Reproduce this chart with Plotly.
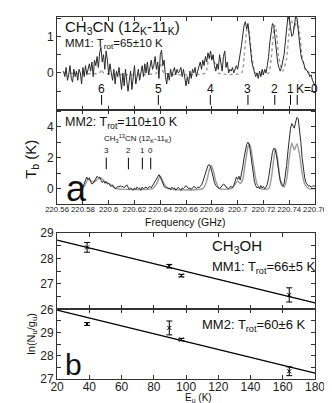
import plotly.graph_objects as go

# ---------- panel a : CH3CN (12K-11K) spectra ----------
f0_mm1 = 220.565
mm1_obs = [0.05, -0.1, 0.15, -0.2, -0.05, 0.2, -0.15, -0.25, 0.1, -0.1,
           0.05, -0.2, 0.1, 0.0, -0.3, 0.15, -0.1, 0.2, -0.05, 0.1,
           0.25, 0.05, 0.3, -0.1, 0.35, 0.2, 0.45, 0.15, 0.55, 0.7,
           0.3, 0.5, 0.1, 0.6, 0.35, -0.05, 0.25, 0.0, -0.2, 0.1,
           -0.3, 0.05, -0.1, 0.15, -0.2, -0.45, 0.0, -0.35, 0.1, -0.15,
           -0.5, -0.2, 0.05, -0.45, -0.1, 0.2, -0.3, -0.05, 0.1, -0.2,
           0.05, 0.2, -0.1, 0.25, 0.0, 0.3, -0.05, 0.15, 0.35, 0.1,
           0.2, 0.45, 0.1, 0.3, -0.15, 0.5, 0.62, 0.2, 0.35, -0.1,
           -0.3, 0.0, -0.2, 0.1, -0.1, 0.05, 0.15, -0.05, 0.1, 0.0,
           0.05, 0.15, -0.1, 0.1, -0.2, -0.35, -0.1, -0.3, 0.05, -0.15,
           0.1, 0.0, 0.15, -0.1, 0.05, 0.2, 0.3, 0.1, 0.35, 0.2,
           0.45, 0.3, 0.55, 0.4, 0.6, 0.35, 0.5, 0.2, 0.05, 0.25,
           0.1, 0.5, 0.2, 0.05, 0.45, 0.6, 0.15, 0.3, 0.0, 0.1,
           0.05, 0.15, 0.0, 0.1, 0.2, 0.1, 0.3, 0.45, 0.75, 1.05,
           1.3, 1.4, 1.2, 1.35, 0.95, 0.55, 0.3, 0.15, 0.05, -0.1,
           0.0, -0.15, 0.05, -0.1, 0.1, -0.05, 0.1, 0.0, 0.2, 0.45,
           0.85, 1.2, 1.35, 1.3, 0.95, 0.55, 0.3, 0.15, 0.05, 0.15,
           0.3, 0.5, 0.85, 1.3, 1.55, 1.45, 1.2, 1.0, 1.05, 1.4,
           1.55, 1.5, 1.1, 0.75, 0.5, 0.35, 0.3, 0.15, 0.1, 0.05,
           0.0, -0.1, -0.05, -0.2, -0.3, -0.35]
freq_mm1 = [round(f0_mm1 + 0.001 * i, 3) for i in range(len(mm1_obs))]

mod1_f = [220.565, 220.593, 220.5945, 220.596, 220.637, 220.640, 220.643, 220.675,
          220.677, 220.6795, 220.682, 220.685, 220.703, 220.705, 220.707, 220.708,
          220.709, 220.711, 220.714, 220.724, 220.726, 220.728, 220.729, 220.730,
          220.732, 220.735, 220.738, 220.740, 220.7415, 220.744, 220.746, 220.748,
          220.750, 220.753, 220.760]
mod1_v = [0, 0, 0.1, 0, 0, 0.25, 0, 0,
          0.3, 0.5, 0.3, 0, 0, 0.45, 1.15, 1.3,
          1.15, 0.45, 0, 0, 0.4, 1.15, 1.3, 1.15,
          0.4, 0.05, 0.4, 1.2, 1.45, 1.2, 1.45, 1.1,
          0.45, 0.05, 0]

f0_mm2 = 220.580
mm2_obs = [0.1, 0.3, 0.5, 0.75, 0.6, 0.7, 0.45, 0.3, 0.35, 0.5,
           0.65, 0.8, 0.7, 0.75, 0.55, 0.4, 0.5, 0.35, 0.45, 0.3,
           0.35, 0.2, 0.15, 0.25, 0.1, 0.0, 0.05, 0.15, 0.1, 0.2,
           0.1, 0.15, 0.05, 0.2, 0.25, 0.1, -0.05, 0.05, 0.0, -0.1,
           0.05, -0.05, 0.1, 0.0, 0.05, -0.1, 0.1, 0.0, 0.05, 0.1,
           0.0, 0.1, 0.15, 0.05, 0.2, 0.3, 0.45, 0.6, 0.8, 0.9,
           0.75, 0.5, 0.3, 0.15, 0.05, 0.1, 0.0, 0.05, -0.05, 0.1,
           0.0, 0.05, -0.1, 0.05, 0.1, 0.0, -0.1, 0.05, 0.0, 0.1,
           0.2, 0.1, 0.0, 0.05, -0.05, 0.05, 0.15, 0.1, 0.0, 0.1,
           0.05, 0.15, 0.25, 0.45, 0.7, 1.0, 1.3, 1.5, 1.55, 1.4,
           1.1, 0.7, 0.4, 0.2, 0.1, 0.05, 0.0, 0.1, 0.2, 0.3,
           0.25, 0.1, 0.05, 0.0, 0.1, 0.15, 0.05, 0.2, 0.45, 0.75,
           0.6, 0.8, 0.55, 0.9, 1.4, 2.0, 2.5, 2.85, 3.0, 2.85,
           2.3, 1.6, 0.9, 0.45, 0.2, 0.05, 0.1, 0.0, 0.2, 0.05,
           0.15, 0.0, 0.1, 0.3, 0.7, 1.3, 1.9, 2.35, 2.6, 2.55,
           2.2, 1.6, 1.0, 0.5, 0.25, 0.15, 0.3, 0.8, 1.5, 2.4,
           3.3, 3.9, 4.2, 4.0, 3.9, 4.3, 4.6, 4.5, 3.9, 3.0,
           2.0, 1.2, 0.7, 0.4, 0.25, 0.15, 0.2, 0.1, 0.15, 0.2,
           0.15]
freq_mm2 = [round(f0_mm2 + 0.001 * i, 3) for i in range(len(mm2_obs))]

mod2_f = [220.580, 220.582, 220.584, 220.586, 220.589, 220.592, 220.594, 220.597,
          220.600, 220.603, 220.606, 220.634, 220.637, 220.640, 220.643, 220.646,
          220.673, 220.676, 220.678, 220.6795, 220.681, 220.683, 220.686, 220.695,
          220.698, 220.700, 220.702, 220.704, 220.706, 220.708, 220.709, 220.710,
          220.712, 220.715, 220.718, 220.724, 220.726, 220.728, 220.7295, 220.731,
          220.733, 220.736, 220.738, 220.740, 220.742, 220.744, 220.746, 220.748,
          220.750, 220.752, 220.755, 220.760]
mod2_v = [0.0, 0.3, 0.6, 0.5, 0.45, 0.65, 0.7, 0.45,
          0.35, 0.15, 0.0, 0.0, 0.3, 0.8, 0.3, 0.0,
          0.0, 0.5, 1.2, 1.5, 1.2, 0.5, 0.0, 0.0,
          0.3, 0.5, 0.35, 0.6, 1.7, 2.7, 2.9, 2.7,
          1.7, 0.3, 0.0, 0.0, 0.6, 1.9, 2.6, 1.9,
          0.6, 0.1, 0.6, 2.0, 2.95, 2.5, 2.9, 2.2,
          1.0, 0.3, 0.0, 0.0]

k_labels = ["6", "5", "4", "3", "2", "1", "K=0"]
k_freq = [220.5945, 220.6385, 220.6788, 220.7080, 220.7288, 220.7410, 220.7462]
c13_labels = ["3", "2", "1", "0"]
c13_freq = [220.5981, 220.6153, 220.6261, 220.6326]

freq_ticks = [220.56, 220.58, 220.60, 220.62, 220.64, 220.66, 220.68, 220.70, 220.72, 220.74, 220.76]

# ---------- panel b : CH3OH rotation diagrams ----------
eu = [38.6, 89.6, 97.1, 164.0]
mm1_ln = [28.44, 27.70, 27.33, 26.57]
mm1_err = [0.19, 0.07, 0.05, 0.28]
mm2_ln = [29.37, 29.20, 28.70, 27.33]
mm2_err = [0.06, 0.30, 0.05, 0.19]
fit_e = [20, 180]
fit_mm1 = [28.73, 26.26]
fit_mm2 = [29.97, 27.25]

W, H = 332, 403
def px(x, y):
    return x / W, 1 - y / H

FONT = "Liberation Sans"
OBS = "#2a2a2a"
MOD = "#9a9a9a"

fig = go.Figure()

fig.add_trace(go.Scatter(x=mod1_f, y=mod1_v, mode="lines", xaxis="x", yaxis="y",
                         line=dict(color=MOD, width=1.4, dash="dot", shape="spline", smoothing=0.6)))
fig.add_trace(go.Scatter(x=freq_mm1, y=mm1_obs, mode="lines", xaxis="x", yaxis="y",
                         line=dict(color=OBS, width=1)))
fig.add_trace(go.Scatter(x=mod2_f, y=mod2_v, mode="lines", xaxis="x2", yaxis="y2",
                         line=dict(color=MOD, width=1.4, shape="spline", smoothing=0.6)))
fig.add_trace(go.Scatter(x=freq_mm2, y=mm2_obs, mode="lines", xaxis="x2", yaxis="y2",
                         line=dict(color=OBS, width=1)))

# line markers for K components
def marks(freqs, y0, y1):
    xs, ys = [], []
    for f in freqs:
        xs += [f, f, None]
        ys += [y0, y1, None]
    return xs, ys

mx, my = marks(k_freq, -0.6, -0.87)
fig.add_trace(go.Scatter(x=mx, y=my, mode="lines", xaxis="x", yaxis="y",
                         line=dict(color="black", width=1)))
mx, my = marks(c13_freq, 2.0, 1.25)
fig.add_trace(go.Scatter(x=mx, y=my, mode="lines", xaxis="x2", yaxis="y2",
                         line=dict(color="black", width=1)))

# rotation diagrams
for ln, err, fit, xa, ya in [(mm1_ln, mm1_err, fit_mm1, "x3", "y3"),
                             (mm2_ln, mm2_err, fit_mm2, "x4", "y4")]:
    fig.add_trace(go.Scatter(x=fit_e, y=fit, mode="lines", xaxis=xa, yaxis=ya,
                             line=dict(color="black", width=1.3)))
    fig.add_trace(go.Scatter(x=eu, y=ln, mode="markers", xaxis=xa, yaxis=ya,
                             marker=dict(symbol="x-thin", size=4, color="black",
                                         line=dict(color="black", width=1)),
                             error_y=dict(type="data", array=err, color="black",
                                          thickness=1, width=3)))

ax_common = dict(showline=True, linecolor="#333", linewidth=1, mirror="ticks",
                 ticks="inside", ticklen=4, tickcolor="#333", showgrid=False,
                 zeroline=False, tickfont=dict(family=FONT, size=12, color="#222"))

xd = [40 / W, 318 / W]
fig.update_layout(
    width=W, height=H, margin=dict(l=0, r=0, t=0, b=0),
    paper_bgcolor="white", plot_bgcolor="white", showlegend=False,
    xaxis=dict(ax_common, domain=xd, anchor="y", range=[220.56, 220.76],
               tickvals=freq_ticks, showticklabels=False),
    yaxis=dict(ax_common, domain=[1 - 98 / H, 1 - 2 / H], anchor="x", range=[-1.0, 1.53],
               tickvals=[-0.5, 0, 0.5, 1, 1.5], ticktext=["", "0", "", "1", ""]),
    xaxis2=dict(ax_common, domain=xd, anchor="y2", range=[220.56, 220.76],
                tickvals=freq_ticks, tickangle=0, ticklabelstandoff=-3,
                tickfont=dict(family=FONT, size=7.8, color="#222")),
    yaxis2=dict(ax_common, domain=[1 - 196 / H, 1 - 98 / H], anchor="x2", range=[-1.0, 5.1],
                tickvals=[0, 1, 2, 3, 4, 5], ticktext=["0", "", "2", "", "4", ""]),
    xaxis3=dict(ax_common, domain=xd, anchor="y3", range=[20, 180],
                tickvals=list(range(20, 181, 20)), showticklabels=False),
    yaxis3=dict(ax_common, domain=[1 - 305 / H, 1 - 226 / H], anchor="x3", range=[26, 29],
                tickvals=[26, 26.5, 27, 27.5, 28, 28.5, 29],
                ticktext=["26", "", "27", "", "28", "", "29"]),
    xaxis4=dict(ax_common, domain=xd, anchor="y4", range=[20, 180],
                tickvals=list(range(20, 181, 20)), tickangle=0, ticklabelstandoff=-3),
    yaxis4=dict(ax_common, domain=[1 - 377 / H, 1 - 305 / H], anchor="x4", range=[27, 30],
                tickvals=[27, 27.5, 28, 28.5, 29, 29.5, 30],
                ticktext=["27", "", "28", "", "29", "", ""]),
)

ann = []
def text(x, y, s, size, xanchor="left", angle=0):
    px_x, px_y = px(x, y)
    ann.append(dict(x=px_x, y=px_y, xref="paper", yref="paper", text=s, showarrow=False,
                    xanchor=xanchor, yanchor="middle", textangle=angle,
                    font=dict(family=FONT, size=size, color="#111")))

text(46, 13, "CH<sub>3</sub>CN (12<sub>K</sub>-11<sub>K</sub>)", 15)
text(46, 30, "MM1: T<sub>rot</sub>=65±10 K", 11.5)
text(46, 112, "MM2: T<sub>rot</sub>=110±10 K", 12.5)
text(47, 180, "a", 36)
text(13, 150, "T<sub>b</sub> (K)", 15, "center", -90)
text(178, 214, "Frequency (GHz)", 10.5, "center")
text(88, 128, "CH<sub>3</sub><sup>13</sup>CN (12<sub>K</sub>-11<sub>K</sub>)", 8)
text(205, 240, "CH<sub>3</sub>OH", 15)
text(205, 262, "MM1: T<sub>rot</sub>=66±5 K", 13)
text(194, 322, "MM2: T<sub>rot</sub>=60±6 K", 13)
text(46, 362, "b", 30)
text(12, 330, "ln(N<sub>u</sub>/g<sub>u</sub>)", 11, "center", -90)
text(192, 397, "E<sub>u</sub> (K)", 10, "center")

for lab, f in zip(k_labels, k_freq):
    ann.append(dict(x=f, y=-0.43, xref="x", yref="y", text=lab, showarrow=False,
                    xanchor="left" if lab == "K=0" else "center", xshift=-3 if lab == "K=0" else 0,
                    font=dict(family=FONT, size=12, color="#111")))
for lab, f in zip(c13_labels, c13_freq):
    ann.append(dict(x=f, y=2.45, xref="x2", yref="y2", text=lab, showarrow=False,
                    font=dict(family=FONT, size=8, color="#111")))

fig.update_layout(annotations=ann)
fig.write_html("out.html")
